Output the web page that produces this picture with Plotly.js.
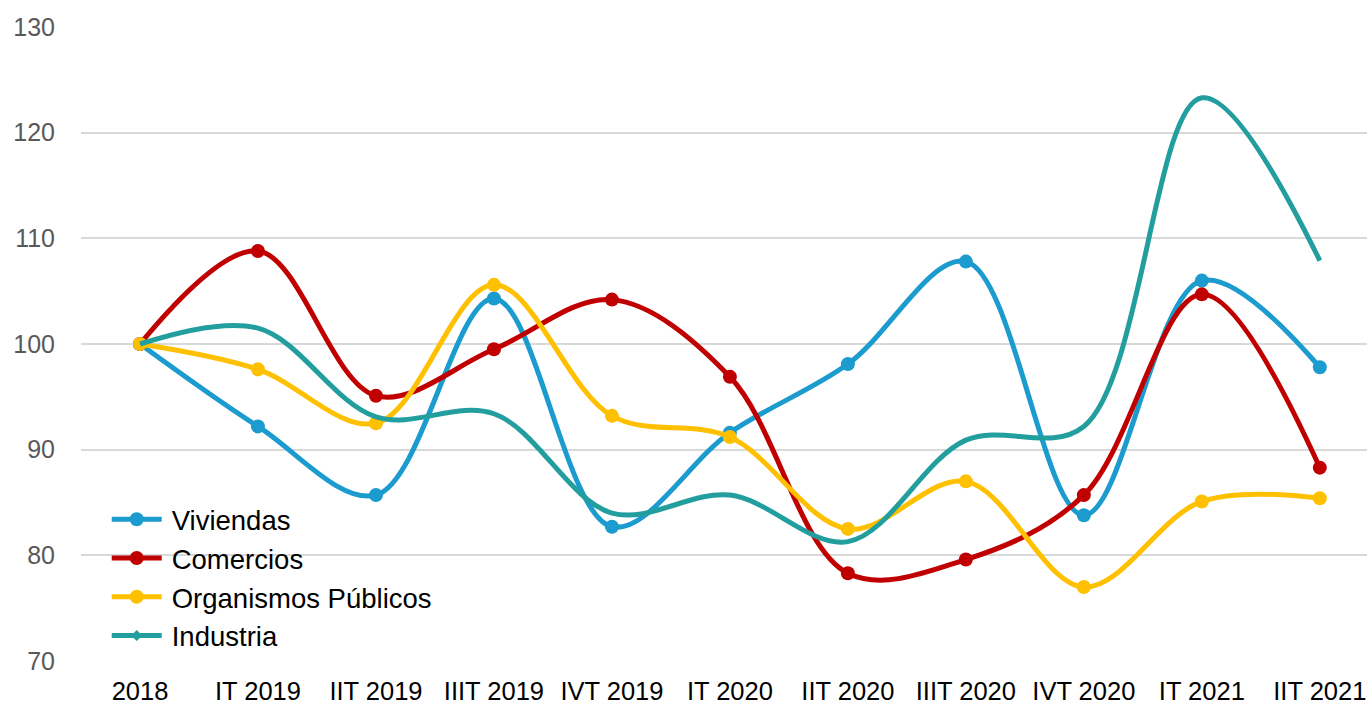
<!DOCTYPE html>
<html>
<head>
<meta charset="utf-8">
<script src="https://cdn.plot.ly/plotly-3.0.1.min.js"></script>
<style>html,body{margin:0;padding:0;background:#fff;}#chart{width:1367px;height:704px;}</style>
</head>
<body>
<div id="chart"></div>
<script>
const categories = ["2018","IT 2019","IIT 2019","IIIT 2019","IVT 2019","IT 2020","IIT 2020","IIIT 2020","IVT 2020","IT 2021","IIT 2021"];
const viviendas = [100, 92.2, 85.7, 104.3, 82.7, 91.6, 98.1, 107.8, 83.8, 106.0, 97.8];
const comercios = [100, 108.8, 95.1, 99.5, 104.2, 96.9, 78.3, 79.6, 85.7, 104.7, 88.3];
const organismos = [100, 97.6, 92.5, 105.6, 93.2, 91.2, 82.5, 87.0, 77.0, 85.1, 85.4];
const industria = [100, 101.5, 93.1, 93.4, 84.0, 85.7, 81.3, 90.9, 92.2, 123.3, 107.9];

const seriesNames = ["Viviendas","Comercios","Organismos Públicos","Industria"];
const seriesValues = [viviendas, comercios, organismos, industria];
const seriesColors = ["#1B9BCE","#C00000","#FFC000","#229E9E"];
const seriesModes = ["lines+markers","lines+markers","lines+markers","lines"];

const traces = seriesValues.map((vals, i) => ({
  type: 'scatter',
  x: categories,
  y: vals,
  name: seriesNames[i],
  mode: seriesModes[i],
  line: {color: seriesColors[i], width: 5, shape: 'spline', smoothing: 1},
  marker: {color: seriesColors[i], size: 14, symbol: 'circle'},
  cliponaxis: false
}));

const layout = {
  width: 1367, height: 704,
  margin: {l: 81, r: 0, t: 27, b: 43, pad: 0},
  paper_bgcolor: '#ffffff', plot_bgcolor: '#ffffff',
  font: {family: 'Liberation Sans, Arial, sans-serif', size: 25, color: '#000000'},
  showlegend: true,
  legend: {
    x: 0.02, y: 0.262, xanchor: 'left', yanchor: 'top',
    bgcolor: 'rgba(0,0,0,0)', borderwidth: 0,
    font: {size: 27.5, color: '#000000'},
    itemwidth: 55,
    tracegroupgap: 0
  },
  xaxis: {
    type: 'category',
    range: [-0.5, 10.4],
    showgrid: false, zeroline: false, showline: false,
    ticks: 'outside', ticklen: 7, tickcolor: 'rgba(0,0,0,0)',
    tickfont: {size: 25.5, color: '#000000'},
    fixedrange: true
  },
  yaxis: {
    range: [70, 130],
    tickvals: [70, 80, 90, 100, 110, 120, 130],
    showgrid: true, gridcolor: '#D9D9D9', gridwidth: 2,
    zeroline: false, showline: false,
    ticks: 'outside', ticklen: 20, tickcolor: 'rgba(0,0,0,0)',
    tickfont: {size: 25, color: '#595959'},
    fixedrange: true
  }
};

Plotly.newPlot('chart', traces, layout, {displayModeBar: false, staticPlot: true}).then(gd => {
  // lengthen legend line symbols and enlarge the legend markers to match the reference
  gd.querySelectorAll('.legend .legendlines path').forEach(p => p.setAttribute('d', 'M5,0h50'));
  gd.querySelectorAll('.legend .legendpoints path.scatterpts').forEach(p => {
    p.setAttribute('transform', 'translate(30,0)');
    p.setAttribute('d', 'M7,0A7,7 0 1,1 0,-7A7,7 0 0,1 7,0Z');
  });
  // legend-only diamond symbol for Industria (as in the reference legend)
  const items = gd.querySelectorAll('.legend .traces');
  const last = items[items.length - 1];
  if (last) {
    const ns = 'http://www.w3.org/2000/svg';
    const p = document.createElementNS(ns, 'path');
    p.setAttribute('d', 'M5.5,0L0,5.5L-5.5,0L0,-5.5Z');
    p.setAttribute('transform', 'translate(30,0)');
    p.setAttribute('style', 'fill:' + seriesColors[3] + ';stroke:none;');
    last.appendChild(p);
  }
});
</script>
</body>
</html>
